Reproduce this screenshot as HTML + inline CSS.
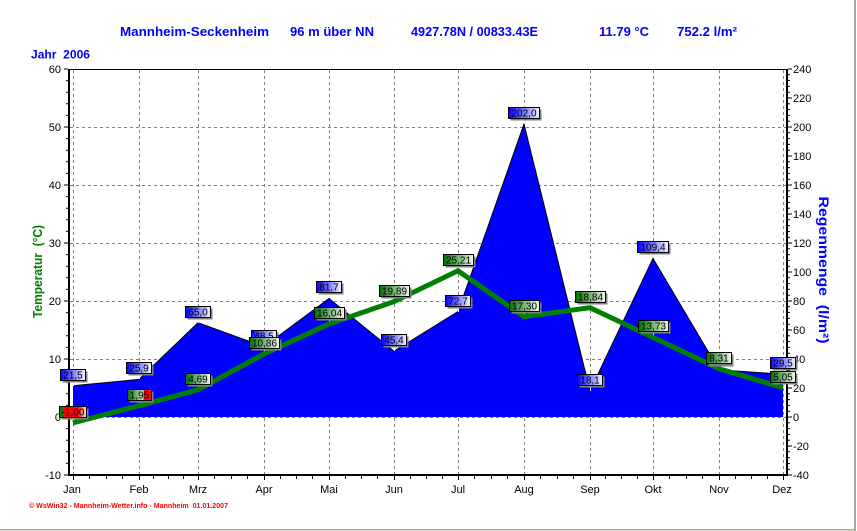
<!DOCTYPE html>
<html>
<head>
<meta charset="utf-8">
<style>
html,body{margin:0;padding:0;background:#fff;}
svg{display:block;}
text{font-family:"Liberation Sans",Arial,sans-serif;}
</style>
</head>
<body>
<svg width="857" height="531" viewBox="0 0 857 531" xmlns="http://www.w3.org/2000/svg">
<defs>
<linearGradient id="gb" x1="0" y1="0" x2="1" y2="0">
<stop offset="0" stop-color="#0000ff"/>
<stop offset="1" stop-color="#f4f4ff"/>
</linearGradient>
<linearGradient id="gg" x1="0" y1="0" x2="1" y2="0">
<stop offset="0" stop-color="#007000"/>
<stop offset="1" stop-color="#f0f8f0"/>
</linearGradient>
<linearGradient id="gr1" x1="0" y1="0" x2="1" y2="0">
<stop offset="0" stop-color="#008000"/>
<stop offset="0.12" stop-color="#008000"/>
<stop offset="0.13" stop-color="#ff0000"/>
<stop offset="0.68" stop-color="#ff0000"/>
<stop offset="1" stop-color="#fff0f0"/>
</linearGradient>
<linearGradient id="gr2" x1="0" y1="0" x2="1" y2="0">
<stop offset="0" stop-color="#007000"/>
<stop offset="0.66" stop-color="#c8e4c8"/>
<stop offset="0.68" stop-color="#ff0000"/>
<stop offset="1" stop-color="#ff0000"/>
</linearGradient>
</defs>

<rect x="0" y="0" width="857" height="531" fill="#fff"/>

<!-- window border -->
<rect x="854" y="0" width="2" height="531" fill="#aca899"/>
<rect x="0" y="529" width="856" height="1.5" fill="#aca899"/>

<!-- titles -->
<g fill="#0000ff" font-weight="bold" font-size="13">
<text x="120" y="36" textLength="149" lengthAdjust="spacingAndGlyphs">Mannheim-Seckenheim</text>
<text x="290" y="36" textLength="84" lengthAdjust="spacingAndGlyphs">96 m über NN</text>
<text x="411" y="36" textLength="127" lengthAdjust="spacingAndGlyphs">4927.78N / 00833.43E</text>
<text x="599" y="36" textLength="50" lengthAdjust="spacingAndGlyphs">11.79 °C</text>
<text x="677" y="36" textLength="60" lengthAdjust="spacingAndGlyphs">752.2 l/m²</text>
<text x="31" y="58.5" font-size="12" textLength="59" lengthAdjust="spacingAndGlyphs">Jahr&#160; 2006</text>
</g>

<!-- gridlines -->
<g stroke="#808080" stroke-width="1" stroke-dasharray="3 3" fill="none">
<path d="M70 127.5H786M70 185.5H786M70 243.5H786M70 301.5H786M70 359.5H786M70 417.5H786"/>
<path d="M73.5 70V474M139.5 70V474M198.5 70V474M264.5 70V474M329.5 70V474M394.5 70V474M458.5 70V474M524.5 70V474M590.5 70V474M653.5 70V474M719.5 70V474M783.5 70V474"/>
</g>

<!-- rain area -->
<polygon fill="#0000ff" points="73,417 73,385.8 139,379.4 198,322.75 264,346.7 329,298.5 394,351.2 458,311.6 524,124.1 590,390.8 653,258.4 719,369.9 783,374.2 783,417"/>
<polyline fill="none" stroke="#000" stroke-width="1" points="73,385.8 139,379.4 198,322.75 264,346.7 329,298.5 394,351.2 458,311.6 524,124.1 590,390.8 653,258.4 719,369.9 783,374.2"/>

<!-- stems -->
<g stroke="#fff" stroke-width="1">
<path d="M73.5 381V386M139.5 374V379M198.5 318V323M264.5 342V347M329.5 293V298M394.5 346V351M458.5 307V312M524.5 119V124M590.5 386V391M653.5 253V258M719.5 365V370M783.5 369V374"/>
<path d="M73.5 418V423M139.5 401V406M198.5 385V390M264.5 349V354M329.5 319V324M394.5 297V302M458.5 266V271M524.5 312V317M590.5 303V308M653.5 332V337M719.5 364V369M783.5 383V388"/>
</g>

<!-- temperature line -->
<polyline fill="none" stroke="#008000" stroke-width="5" stroke-linejoin="miter" points="73,422.8 139,405.7 198,389.8 264,354 329,324 394,301.6 458,270.8 524,316.7 590,307.7 653,337.4 719,368.8 783,387.7"/>

<!-- axes -->
<rect x="69" y="69" width="718" height="1" fill="#000"/>
<rect x="68" y="69" width="2" height="407" fill="#000"/>
<rect x="786" y="69" width="2" height="407" fill="#000"/>
<rect x="68" y="474" width="720" height="2" fill="#000"/>
<!-- left ticks -->
<line x1="67" y1="68.5" x2="67" y2="476" stroke="#000" stroke-width="2" stroke-dasharray="1 10.6"/>
<line x1="65" y1="68.5" x2="65" y2="476" stroke="#000" stroke-width="2" stroke-dasharray="1 57"/>
<!-- right ticks -->
<line x1="789" y1="68.5" x2="789" y2="476" stroke="#000" stroke-width="2" stroke-dasharray="1 4.8"/>
<line x1="791" y1="68.5" x2="791" y2="476" stroke="#000" stroke-width="2" stroke-dasharray="1 28"/>
<!-- bottom ticks -->
<g stroke="#000" stroke-width="1">
<path d="M73.5 476v4M139.5 476v4M198.5 476v4M264.5 476v4M329.5 476v4M394.5 476v4M458.5 476v4M524.5 476v4M590.5 476v4M653.5 476v4M719.5 476v4M783.5 476v4"/>
<path d="M89.5 476v3M106.5 476v3M122.5 476v3M153.5 476v3M168.5 476v3M183.5 476v3M214.5 476v3M231.5 476v3M247.5 476v3M280.5 476v3M296.5 476v3M312.5 476v3M345.5 476v3M361.5 476v3M377.5 476v3M410.5 476v3M426.5 476v3M442.5 476v3M474.5 476v3M491.5 476v3M507.5 476v3M540.5 476v3M557.5 476v3M573.5 476v3M605.5 476v3M621.5 476v3M637.5 476v3M669.5 476v3M686.5 476v3M702.5 476v3M735.5 476v3M751.5 476v3M767.5 476v3"/>
</g>

<!-- left tick labels -->
<g font-size="11" fill="#000" text-anchor="end">
<text x="61" y="73">60</text>
<text x="61" y="131">50</text>
<text x="61" y="189">40</text>
<text x="61" y="247">30</text>
<text x="61" y="305">20</text>
<text x="61" y="363">10</text>
<text x="61" y="421">0</text>
<text x="61" y="479">-10</text>
</g>
<!-- right tick labels -->
<g font-size="11" fill="#000">
<text x="793" y="73">240</text>
<text x="793" y="102">220</text>
<text x="793" y="131">200</text>
<text x="793" y="160">180</text>
<text x="793" y="189">160</text>
<text x="793" y="218">140</text>
<text x="793" y="247">120</text>
<text x="793" y="276">100</text>
<text x="793" y="305">80</text>
<text x="793" y="334">60</text>
<text x="793" y="363">40</text>
<text x="793" y="392">20</text>
<text x="793" y="421">0</text>
<text x="793" y="450">-20</text>
<text x="793" y="479">-40</text>
</g>
<!-- month labels -->
<g font-size="11" fill="#000" text-anchor="middle">
<text x="72" y="493">Jan</text>
<text x="139" y="493">Feb</text>
<text x="198" y="493">Mrz</text>
<text x="264" y="493">Apr</text>
<text x="329" y="493">Mai</text>
<text x="394" y="493">Jun</text>
<text x="458" y="493">Jul</text>
<text x="524" y="493">Aug</text>
<text x="590" y="493">Sep</text>
<text x="653" y="493">Okt</text>
<text x="719" y="493">Nov</text>
<text x="782" y="493">Dez</text>
</g>

<!-- rain labels -->
<g font-size="10" text-anchor="middle" fill="#000">
<rect x="62.5" y="371.5" width="25" height="11" fill="#808080"/><rect x="60.5" y="369.5" width="25" height="11" fill="url(#gb)" stroke="#000"/><text x="73" y="378.5">21,5</text>
<rect x="128.5" y="364.5" width="25" height="11" fill="#808080"/><rect x="126.5" y="362.5" width="25" height="11" fill="url(#gb)" stroke="#000"/><text x="139" y="371.5">25,9</text>
<rect x="187.5" y="308.5" width="25" height="11" fill="#808080"/><rect x="185.5" y="306.5" width="25" height="11" fill="url(#gb)" stroke="#000"/><text x="198" y="315.5">65,0</text>
<rect x="253.5" y="332.5" width="25" height="11" fill="#808080"/><rect x="251.5" y="330.5" width="25" height="11" fill="url(#gb)" stroke="#000"/><text x="264" y="339.5">48,5</text>
<rect x="318.5" y="283.5" width="25" height="11" fill="#808080"/><rect x="316.5" y="281.5" width="25" height="11" fill="url(#gb)" stroke="#000"/><text x="329" y="290.5">81,7</text>
<rect x="383.5" y="336.5" width="25" height="11" fill="#808080"/><rect x="381.5" y="334.5" width="25" height="11" fill="url(#gb)" stroke="#000"/><text x="394" y="343.5">45,4</text>
<rect x="447.5" y="297.5" width="25" height="11" fill="#808080"/><rect x="445.5" y="295.5" width="25" height="11" fill="url(#gb)" stroke="#000"/><text x="458" y="304.5">72,7</text>
<rect x="510.5" y="109.5" width="31" height="11" fill="#808080"/><rect x="508.5" y="107.5" width="31" height="11" fill="url(#gb)" stroke="#000"/><text x="524" y="116.5">202,0</text>
<rect x="579.5" y="376.5" width="25" height="11" fill="#808080"/><rect x="577.5" y="374.5" width="25" height="11" fill="url(#gb)" stroke="#000"/><text x="590" y="383.5">18,1</text>
<rect x="639.5" y="243.5" width="31" height="11" fill="#808080"/><rect x="637.5" y="241.5" width="31" height="11" fill="url(#gb)" stroke="#000"/><text x="653" y="250.5">109,4</text>
<rect x="708.5" y="355.5" width="25" height="11" fill="#808080"/><rect x="706.5" y="353.5" width="25" height="11" fill="url(#gb)" stroke="#000"/><text x="719" y="362.5">32,5</text>
<rect x="772.5" y="359.5" width="25" height="11" fill="#808080"/><rect x="770.5" y="357.5" width="25" height="11" fill="url(#gb)" stroke="#000"/><text x="783" y="366.5">29,5</text>
</g>

<!-- temperature labels -->
<g font-size="10" text-anchor="middle" fill="#000">
<rect x="61.5" y="408.5" width="27" height="11" fill="#808080"/><rect x="59.5" y="406.5" width="27" height="11" fill="url(#gr1)" stroke="#000"/><text x="73" y="415.5">-1,00</text>
<rect x="129.5" y="391.5" width="24" height="11" fill="#808080"/><rect x="127.5" y="389.5" width="24" height="11" fill="url(#gr2)" stroke="#000"/><text x="139.5" y="398.5">1,95</text>
<rect x="187.5" y="375.5" width="25" height="11" fill="#808080"/><rect x="185.5" y="373.5" width="25" height="11" fill="url(#gg)" stroke="#000"/><text x="198" y="382.5">4,69</text>
<rect x="251.5" y="339.5" width="30" height="11" fill="#808080"/><rect x="249.5" y="337.5" width="30" height="11" fill="url(#gg)" stroke="#000"/><text x="264.5" y="346.5">10,86</text>
<rect x="316.5" y="309.5" width="30" height="11" fill="#808080"/><rect x="314.5" y="307.5" width="30" height="11" fill="url(#gg)" stroke="#000"/><text x="329.5" y="316.5">16,04</text>
<rect x="381.5" y="287.5" width="30" height="11" fill="#808080"/><rect x="379.5" y="285.5" width="30" height="11" fill="url(#gg)" stroke="#000"/><text x="394.5" y="294.5">19,89</text>
<rect x="445.5" y="256.5" width="30" height="11" fill="#808080"/><rect x="443.5" y="254.5" width="30" height="11" fill="url(#gg)" stroke="#000"/><text x="458.5" y="263.5">25,21</text>
<rect x="511.5" y="302.5" width="30" height="11" fill="#808080"/><rect x="509.5" y="300.5" width="30" height="11" fill="url(#gg)" stroke="#000"/><text x="524.5" y="309.5">17,30</text>
<rect x="577.5" y="293.5" width="30" height="11" fill="#808080"/><rect x="575.5" y="291.5" width="30" height="11" fill="url(#gg)" stroke="#000"/><text x="590.5" y="300.5">18,84</text>
<rect x="640.5" y="322.5" width="30" height="11" fill="#808080"/><rect x="638.5" y="320.5" width="30" height="11" fill="url(#gg)" stroke="#000"/><text x="653.5" y="329.5">13,73</text>
<rect x="708.5" y="354.5" width="25" height="11" fill="#808080"/><rect x="706.5" y="352.5" width="25" height="11" fill="url(#gg)" stroke="#000"/><text x="719" y="361.5">8,31</text>
<rect x="772.5" y="373.5" width="25" height="11" fill="#808080"/><rect x="770.5" y="371.5" width="25" height="11" fill="url(#gg)" stroke="#000"/><text x="783" y="380.5">5,05</text>
</g>

<!-- axis titles -->
<text transform="translate(42,271.5) rotate(-90)" text-anchor="middle" font-size="13" font-weight="bold" fill="#008000" textLength="93" lengthAdjust="spacingAndGlyphs">Temperatur&#160; (°C)</text>
<text transform="translate(819,270) rotate(90)" text-anchor="middle" font-size="14" font-weight="bold" fill="#0000ff" textLength="147" lengthAdjust="spacingAndGlyphs">Regenmenge&#160; (l/m²)</text>

<!-- footer -->
<text x="29" y="508" font-size="7" font-weight="bold" fill="#ff0000" textLength="199" lengthAdjust="spacingAndGlyphs">© WsWin32 - Mannheim-Wetter.info - Mannheim&#160; 01.01.2007</text>
</svg>
</body>
</html>
